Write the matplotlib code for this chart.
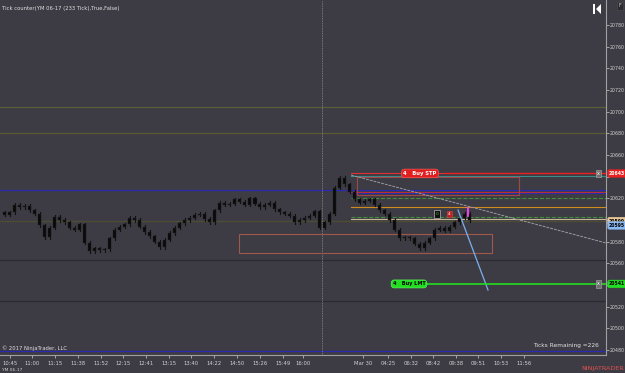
import numpy as np
import matplotlib

matplotlib.use("Agg")
import matplotlib.pyplot as plt
from matplotlib.patches import Rectangle, Polygon

# closes, one bar every 5 px of the original chart
closes = [20605, 20607, 20614, 20612, 20613, 20609, 20606, 20595, 20584, 20593,
          20603, 20600, 20598, 20593, 20591, 20596, 20579, 20571, 20574, 20572,
          20573, 20583, 20591, 20594, 20596, 20602, 20600, 20594, 20589, 20585,
          20580, 20575, 20582, 20588, 20593, 20597, 20600, 20602, 20605, 20606,
          20601, 20598, 20609, 20616, 20614, 20615, 20619, 20617, 20614, 20620,
          20615, 20612, 20614, 20616, 20610, 20607, 20606, 20604, 20598, 20600,
          20602, 20604, 20608, 20593, 20598, 20606, 20630, 20639, 20633, 20626,
          20619, 20616, 20618, 20619, 20614, 20609, 20606, 20600, 20591, 20583,
          20584, 20583, 20578, 20574, 20579, 20583, 20591, 20593, 20590, 20594,
          20598, 20602, 20606, 20600]

time_pos = [1.0, 5.4, 10.0, 14.6, 19.2, 23.6, 28.2, 32.8, 37.2, 41.8, 46.4,
            51.0, 55.6, 59.6, 71.6, 76.6, 81.2, 85.6, 90.2, 94.6, 99.2, 103.8]
time_labels = ["10:45", "11:00", "11:15", "11:38", "11:52", "12:15", "12:41",
               "13:15", "13:40", "14:22", "14:50", "15:26", "15:49", "16:00",
               "Mar 30", "04:25", "06:32", "08:42", "09:38", "09:51", "10:53",
               "11:56"]

price_ticks = list(range(20480, 20781, 20))
hidden_ticks = [20540, 20600, 20640]  # covered by the price tags

# full width horizontal lines (price, colour)
full_levels = [20704.3, 20680.3, 20627.7, 20599.0, 20563.0, 20525.0, 20479.0]
full_colors = ["#55603a", "#5c5a32", "#2a2ab0", "#4e4c32", "#2a2a30", "#2a2a30", "#2a2ab0"]

# levels starting near the recent high
part_levels = [20643, 20640.5, 20625.5, 20625.0, 20620.7, 20612.4, 20603.2, 20600.5]
part_colors = ["#e03030", "#3c8c8c", "#c03030", "#2a2ab0", "#3f8f3f", "#d08a20", "#3f8f3f", "#c8b89a"]
part_styles = ["-", "-", "-", "-", "--", "-", "--", "-"]
part_start = 69.2

buy_stp = 20643
buy_lmt = 20541
last_price = 20595

bg = "#3d3c44"
fig = plt.figure(figsize=(6.25, 3.73), dpi=100, facecolor=bg)
ax = fig.add_axes([0, 18 / 373, 606 / 625, 355 / 373])
ax.set_facecolor(bg)
ax.set_xlim(-1, 120.2)
ax.set_ylim(20475.4, 20803.1)

for lv, c in zip(full_levels, full_colors):
    ax.axhline(lv, color=c, lw=0.9, zorder=1)
for lv, c, s in zip(part_levels, part_colors, part_styles):
    ax.plot([part_start, 120.2], [lv, lv], color=c, lw=0.8, ls=s, zorder=2)

# zones
ax.add_patch(Rectangle((70.4, 20623.1), 32.4, 16.6, fill=False, ec="#a04848", lw=0.8, zorder=2))
ax.add_patch(Rectangle((46.8, 20569.5), 50.6, 17.6, fill=False, ec="#a0584a", lw=0.8, zorder=2))

# session break
ax.axvline(63.4, color="#8a8a8a", lw=0.6, ls=(0, (1, 1)), zorder=1)

# trend lines
ax.plot([69.2, 120.2], [20641.5, 20578.8], color="#9a9aa0", lw=0.7, ls=(0, (3, 1)), zorder=2)
ax.plot([90.6, 96.6], [20609.2, 20535.4], color="#7ab0f0", lw=0.9, zorder=4)

# candles
x = np.arange(len(closes))
opens = [closes[0] + 2] + closes[:-1]
for i in x:
    o, c = opens[i], closes[i]
    lo, hi = min(o, c), max(o, c)
    ax.plot([i, i], [lo - 1.5, hi + 1.5], color="#101010", lw=0.8, zorder=3)
    ax.add_patch(Rectangle((i - 0.3, lo), 0.6, max(hi - lo, 0.6), fc="#0a0a0a",
                           ec="#202020", lw=0.3, zorder=3))

# order labels
ax.plot([79, 120.2], [buy_lmt, buy_lmt], color="#22dd22", lw=1.2, zorder=4)
ax.plot([88, 120.2], [buy_stp, buy_stp], color="#e82020", lw=1.0, zorder=4)
ax.text(83.0, buy_stp, "4   Buy STP", fontsize=3.8, color="white", ha="center", va="center",
        weight="bold", zorder=6,
        bbox=dict(boxstyle="round,pad=0.35,rounding_size=0.6", fc="#e02020", ec="#ff6060", lw=0.4))
ax.text(80.8, buy_lmt, "4   Buy LMT", fontsize=3.6, color="black", ha="center", va="center",
        weight="bold", zorder=6,
        bbox=dict(boxstyle="round,pad=0.3,rounding_size=0.6", fc="#22dd22", ec="#60ff60", lw=0.4))
for lv in (buy_stp, buy_lmt):
    ax.text(118.7, lv, "x", fontsize=3.5, color="white", ha="center", va="center", zorder=6,
            bbox=dict(boxstyle="square,pad=0.25", fc="#707070", ec="#b0b0b0", lw=0.4))

# position box
ax.text(86.4, 20605.5, "0", fontsize=3.2, color="#30c030", ha="center", va="center", zorder=6,
        bbox=dict(boxstyle="square,pad=0.4", fc="#101010", ec="#a0a0a0", lw=0.6))
ax.text(88.9, 20605.5, "4", fontsize=3.2, color="white", ha="center", va="center", zorder=6,
        bbox=dict(boxstyle="square,pad=0.3", fc="#c02020", ec="#e04040", lw=0.4))
ax.plot([92.6, 92.6], [20604, 20611], color="#ff40ff", lw=1.3, zorder=5)

# axes styling
for s in ["top", "left"]:
    ax.spines[s].set_visible(False)
ax.spines["right"].set_color("#a0a0a0")
ax.spines["bottom"].set_color("#a0a0a0")
ax.spines["right"].set_linewidth(0.8)
ax.spines["bottom"].set_linewidth(0.8)
ax.yaxis.tick_right()
ax.set_yticks(price_ticks)
ax.set_yticklabels(["" if p in hidden_ticks else str(p) for p in price_ticks])
ax.set_xticks(time_pos)
ax.set_xticklabels(time_labels)
ax.tick_params(axis="y", colors="#d0d0d0", labelsize=3.4, length=2, width=0.5, pad=1)
ax.tick_params(axis="x", colors="#d0d0d0", labelsize=3.8, length=2, width=0.5, pad=2)

# price tags on the right axis
tags = [(buy_stp, "#e82020", "white"), (buy_lmt, "#22dd22", "black"),
        (20599, "#e8c89a", "black"), (last_price, "#8ab8f0", "black")]
ytr = ax.get_yaxis_transform()
for lv, fc, tc in tags:
    ax.text(1.005, lv, str(int(lv)), fontsize=3.3, color=tc, ha="left", va="center",
            weight="bold", zorder=7, clip_on=False, transform=ytr,
            bbox=dict(boxstyle="round,pad=0.3,rounding_size=0.4", fc=fc, ec=fc, lw=0.3))

# texts
fig.text(0.004, 0.978, "Tick counter(YM 06-17 (233 Tick),True,False)", fontsize=3.8,
         color="#e0e0e0", ha="left", va="center")
fig.text(0.004, 0.067, "\u00a9 2017 NinjaTrader, LLC", fontsize=3.8, color="#e0e0e0",
         ha="left", va="center")
fig.text(0.958, 0.075, "Ticks Remaining =226", fontsize=4.2, color="#e0e0e0",
         ha="right", va="center")
fig.text(0.004, 0.008, "YM 06-17", fontsize=3.2, color="#d0d0d0", ha="left", va="center")
fig.text(0.999, 0.013, "NINJATRADER", fontsize=4.6, color="#e05050", ha="right", va="center")

# scroll-to-start icon (drawn as shapes, no font has the glyph)
fig.patches.append(Rectangle((593 / 625, 1 - 14 / 373), 1.6 / 625, 10 / 373,
                             transform=fig.transFigure, fc="white", ec="none"))
fig.patches.append(Polygon([(596 / 625, 1 - 9 / 373), (601 / 625, 1 - 4 / 373),
                            (601 / 625, 1 - 14 / 373)],
                           transform=fig.transFigure, fc="white", ec="none"))
fig.text(0.992, 0.985, "F", fontsize=3.5, color="#d0d0d0", ha="center", va="center",
         bbox=dict(boxstyle="square,pad=0.3", fc="#2a2a30", ec="#505050", lw=0.4))

fig.savefig("out.png", dpi=100, facecolor=bg)
